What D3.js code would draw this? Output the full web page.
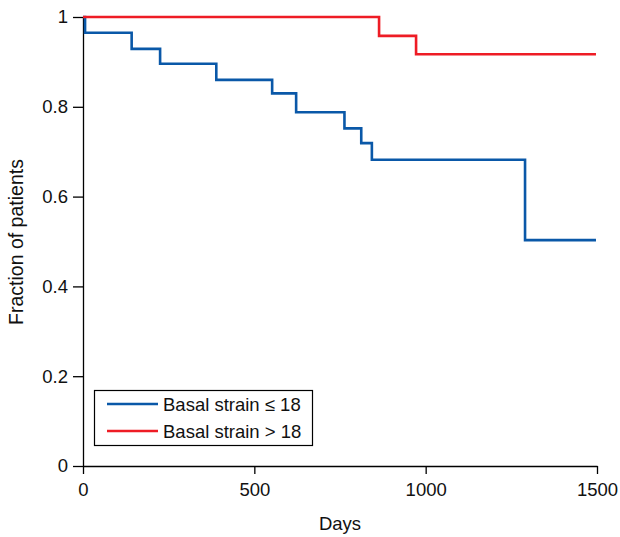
<!DOCTYPE html>
<html><head><meta charset="utf-8">
<script src="https://cdn.jsdelivr.net/npm/d3@7"></script>
<style>body{margin:0;background:#fff}svg{display:block;font-family:"Liberation Sans",Arial,sans-serif}</style>
</head><body><svg id="c" width="620" height="537"></svg>
<script>
const lowDays = [0, 6, 142, 225, 389, 552, 622, 763, 812, 843, 1290, 1497];
const lowSurv = [1, 0.965, 0.929, 0.896, 0.860, 0.830, 0.788, 0.752, 0.719, 0.682, 0.503, 0.503];
const highDays = [0, 864, 972, 1497];
const highSurv = [1, 0.958, 0.917, 0.917];
const seriesNames = ["Basal strain \u2264 18", "Basal strain > 18"];
const seriesColors = ["#0a58a8", "#ee1c25"];
const xTicks = [0, 500, 1000, 1500];
const yTicks = [0, 0.2, 0.4, 0.6, 0.8, 1];

const svg = d3.select("#c");
const x = d3.scaleLinear().domain([0, 1500]).range([83, 597]);
const y = d3.scaleLinear().domain([0, 1]).range([466, 17]);

const xAxis = d3.axisBottom(x).tickValues(xTicks).tickFormat(d3.format("d")).tickSize(8).tickSizeOuter(0);
const yAxis = d3.axisLeft(y).tickValues(yTicks).tickFormat(d => d === 0 || d === 1 ? String(d) : d3.format(".1f")(d)).tickSize(10).tickSizeOuter(0);

const gx = svg.append("g").attr("transform", "translate(0,466)").call(xAxis);
const gy = svg.append("g").attr("transform", "translate(83,0)").call(yAxis);
[gx, gy].forEach(g => {
  g.select(".domain").attr("stroke", "#000").attr("stroke-width", 1.3);
  g.selectAll(".tick line").attr("stroke", "#000").attr("stroke-width", 1.3);
  g.selectAll(".tick text").attr("fill", "#111").attr("font-size", 18.5).attr("font-family", "Liberation Sans, Arial, sans-serif");
});
gx.selectAll(".tick text").attr("y", 17);
gy.selectAll(".tick text").attr("x", -15);

svg.append("text").attr("x", 340).attr("y", 530).attr("text-anchor", "middle").attr("font-size", 18.5).attr("fill", "#111").text("Days");
svg.append("text").attr("transform", "translate(23,242) rotate(-90)").attr("text-anchor", "middle").attr("font-size", 19.5).attr("fill", "#111").text("Fraction of patients");

const line = d3.line().x(d => x(d[0])).y(d => y(d[1])).curve(d3.curveStepAfter);
const series = [d3.zip(lowDays, lowSurv), d3.zip(highDays, highSurv)];
series.forEach((s, i) => {
  svg.append("path").datum(s).attr("d", line).attr("fill", "none")
    .attr("stroke", seriesColors[i]).attr("stroke-width", 2.6);
});

// legend
const lg = svg.append("g");
lg.append("rect").attr("x", 94.5).attr("y", 390.5).attr("width", 218).attr("height", 55)
  .attr("fill", "#fff").attr("stroke", "#000").attr("stroke-width", 1.2);
seriesNames.forEach((n, i) => {
  const yy = 404 + i * 27;
  lg.append("line").attr("x1", 107).attr("x2", 158).attr("y1", yy).attr("y2", yy)
    .attr("stroke", seriesColors[i]).attr("stroke-width", 2.6);
  lg.append("text").attr("x", 163).attr("y", yy + 7).attr("font-size", 18.5).attr("fill", "#111").text(n);
});
</script></body></html>
